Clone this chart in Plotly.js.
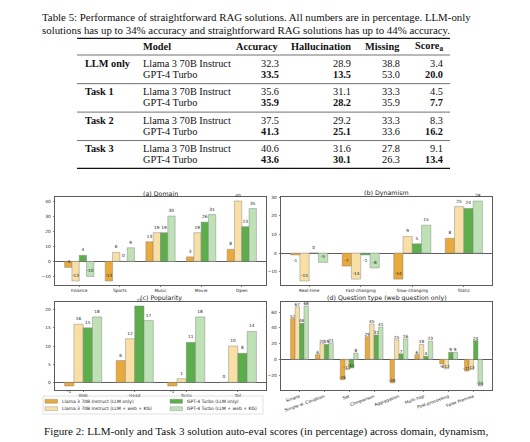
<!DOCTYPE html>
<html><head><meta charset="utf-8">
<script src="https://cdn.plot.ly/plotly-3.0.1.min.js"></script>
<style>html,body{margin:0;padding:0;background:#fff}#chart{width:530px;height:442px}</style>
</head><body><div id="chart"></div>
<script>
// ---------- Table data ----------
const tableCaption1 = 'Table 5: Performance of straightforward RAG solutions. All numbers are in percentage. LLM-only';
const tableCaption2 = 'solutions has up to 34% accuracy and straightforward RAG solutions has up to 44% accuracy.';
const tableHeaders = ['Model', 'Accuracy', 'Hallucination', 'Missing', 'Score<sub>a</sub>'];
const tableGroups = ['LLM only', 'Task 1', 'Task 2', 'Task 3'];
const tableModels = ['Llama 3 70B Instruct', 'GPT-4 Turbo'];
const accuracy = [32.3, 33.5, 35.6, 35.9, 37.5, 41.3, 40.6, 43.6];
const hallucination = [28.9, 13.5, 31.1, 28.2, 29.2, 25.1, 31.6, 30.1];
const missing = [38.8, 53.0, 33.3, 35.9, 33.3, 33.6, 27.8, 26.3];
const scoreA = [3.4, 20.0, 4.5, 7.7, 8.3, 16.2, 9.1, 13.4];

// ---------- Figure data ----------
const seriesNames = ['Llama 3 70B Instruct (LLM only)', 'Llama 3 70B Instruct (LLM + web + KG)',
                     'GPT-4 Turbo (LLM only)', 'GPT-4 Turbo (LLM + web + KG)'];
const seriesColors = ['#E9A93B', '#F8DFA6', '#5CAE4B', '#BEE1B6'];

const domainCats = ['Finance', 'Sports', 'Music', 'Movie', 'Open'];
const domainLlamaOnly = [-4, -13, 13, 3, 8];
const domainLlamaRag = [-13, 6, 19, 19, 40];
const domainGptOnly = [4, 0, 19, 26, 23];
const domainGptRag = [-10, 9, 30, 31, 35];

const dynCats = ['Real-time', 'Fast-changing', 'Slow-changing', 'Static'];
const dynLlamaOnly = [-1, -7, -14, 8];
const dynLlamaRag = [-15, -14, 9, 25];
const dynGptOnly = [0, -1, 5, 24];
const dynGptRag = [-5, -8, 15, 28];

const popCats = ['Web', 'Head', 'Torso', 'Tail'];
const popLlamaOnly = [-1, 6, -1, 0];
const popLlamaRag = [16, 12, 1, 10];
const popGptOnly = [15, 21, 11, 8];
const popGptRag = [18, 17, 18, 14];

const qtCats = ['Simple', 'Simple w. Condition', 'Set', 'Comparison', 'Aggregation', 'Multi-hop', 'Post-processing', 'False Premise'];
const qtLlamaOnly = [52, 6, -26, 29, -30, 6, -6, -15];
const qtLlamaRag = [67, 20, -13, 45, 25, 19, -12, -13];
const qtGptOnly = [46, 19, -11, 31, 7, 4, 9, 24];
const qtGptRag = [68, 21, 8, 41, 26, 23, 9, -34];

const figCaption1 = 'Figure 2: LLM-only and Task 3 solution auto-eval scores (in percentage) across domain, dynamism,';
const figCaption2 = 'popularity, and question type.';

// ---------- helpers ----------
const W = 530, H = 442;
const px = x => x / W;
const py = y => 1 - y / H;
const SERIF = 'Liberation Serif, Times New Roman, serif';
const SANS = 'DejaVu Sans, sans-serif';

const panels = [
  {title: '(a) Domain', cats: domainCats, vals: [domainLlamaOnly, domainLlamaRag, domainGptOnly, domainGptRag],
   xd: [55, 266], yd: [197, 285], yr: [-15.65, 42.65], dt: 10, ax: '', ang: 0},
  {title: '(b) Dynamism', cats: dynCats, vals: [dynLlamaOnly, dynLlamaRag, dynGptOnly, dynGptRag],
   xd: [281, 492], yd: [197, 285], yr: [-17.15, 30.15], dt: 10, ax: '2', ang: 0},
  {title: '(c) Popularity', cats: popCats, vals: [popLlamaOnly, popLlamaRag, popGptOnly, popGptRag],
   xd: [55, 266], yd: [302, 390], yr: [-2.1, 22.1], dt: 5, ax: '3', ang: 0},
  {title: '(d) Question type (web question only)', cats: qtCats, vals: [qtLlamaOnly, qtLlamaRag, qtGptOnly, qtGptRag],
   xd: [281, 492], yd: [302, 390], yr: [-39.1, 73.1], dt: 20, ax: '4', ang: -20}
];

const traces = [];
const layout = {
  width: W, height: H, margin: {l: 0, r: 0, t: 0, b: 0},
  paper_bgcolor: '#fff', plot_bgcolor: '#fff',
  barmode: 'group', bargap: 0.28, bargroupgap: 0,
  showlegend: false,
  uniformtext: {mode: 'show', minsize: 4.3},
  font: {family: SANS, color: '#222'},
  annotations: [], shapes: []
};

const TF = {size: 4.3, color: '#222', family: SANS};
panels.forEach(p => {
  const n = p.cats.length;
  const ext = (n - 1) + 0.72;
  const m = 0.05 * ext;
  const pxPerUnit = (p.yd[1] - p.yd[0]) / (p.yr[1] - p.yr[0]);
  p.vals.forEach((v, k) => {
    traces.push({
      type: 'bar', x: p.cats, y: v, name: seriesNames[k],
      xaxis: 'x' + p.ax, yaxis: 'y' + p.ax,
      marker: {color: seriesColors[k], line: {color: 'rgba(130,130,130,0.75)', width: 0.6}},
      text: v.map(String),
      textposition: v.map(d => (d < 0 && -d * pxPerUnit > 6) ? 'inside' : 'outside'),
      insidetextanchor: 'end',
      textangle: 0,
      textfont: TF, insidetextfont: TF, outsidetextfont: TF,
      constraintext: 'none', cliponaxis: false,
      hoverinfo: 'skip', showlegend: false
    });
  });
  const axStyle = {showline: true, mirror: true, linecolor: '#333', linewidth: 0.8,
    ticks: 'outside', ticklen: 1.5, tickwidth: 0.6, tickcolor: '#333',
    showgrid: false, tickfont: {size: 4.3, color: '#222', family: SANS}, fixedrange: true};
  layout['xaxis' + p.ax] = Object.assign({}, axStyle, {
    domain: [px(p.xd[0]), px(p.xd[1])], anchor: 'y' + p.ax, type: 'category',
    range: [-0.36 - m, n - 1 + 0.36 + m], zeroline: false, tickangle: p.ang, ticklabelstandoff: 0
  });
  layout['yaxis' + p.ax] = Object.assign({}, axStyle, {
    domain: [py(p.yd[1]), py(p.yd[0])], anchor: 'x' + p.ax,
    range: p.yr, dtick: p.dt, zeroline: true, zerolinecolor: '#333', zerolinewidth: 0.8, ticklabelstandoff: 1
  });
  layout.annotations.push({
    text: p.title, xref: 'paper', yref: 'paper', x: px((p.xd[0] + p.xd[1]) / 2), y: py(p.yd[0] - 4),
    xanchor: 'center', yanchor: 'middle', showarrow: false, font: {family: SANS, size: 6.3, color: '#222'}
  });
});

// ---------- legend (manual, two columns) ----------
layout.shapes.push({type: 'rect', xref: 'paper', yref: 'paper', x0: px(43), x1: px(263), y0: py(414), y1: py(396),
  line: {color: '#ccc', width: 0.6}, fillcolor: 'rgba(0,0,0,0)'});
const legCols = [45, 170], legRows = [401.3, 408.7];
seriesNames.forEach((nm, k) => {
  const c = Math.floor(k / 2), r = k % 2;
  const x0 = legCols[c], yc = legRows[r];
  layout.shapes.push({type: 'rect', xref: 'paper', yref: 'paper', x0: px(x0), x1: px(x0 + 12.5), y0: py(yc + 2), y1: py(yc - 2),
    fillcolor: seriesColors[k], line: {color: 'rgba(130,130,130,0.75)', width: 0.5}});
  layout.annotations.push({text: nm, xref: 'paper', yref: 'paper', x: px(x0 + 15), y: py(yc), xanchor: 'left', yanchor: 'middle',
    showarrow: false, font: {family: SANS, size: 4.5, color: '#222'}});
});

// ---------- table ----------
const serif = size => ({family: SERIF, size: size, color: '#111'});
function txt(t, x, y, anchor, size) {
  layout.annotations.push({text: t, xref: 'paper', yref: 'paper', x: px(x), y: py(y), xanchor: anchor, yanchor: 'middle',
    showarrow: false, font: serif(size)});
}
txt(tableCaption1, 40, 16.7, 'left', 10.85);
txt(tableCaption2, 40, 30, 'left', 10.85);
function rule(y, w) {
  layout.shapes.push({type: 'line', xref: 'paper', yref: 'paper', x0: px(77), x1: px(450), y0: py(y), y1: py(y), line: {color: '#111', width: w}});
}
rule(38.3, 1.3);
rule(55, 0.6);
rule(168.3, 1.3);
const colRight = [281, 353, 402, 445];
const TS = 10.3;
txt('<b>' + tableHeaders[0] + '</b>', 141, 46.7, 'left', TS);
tableHeaders.slice(1).forEach((h, i) => txt('<b>' + h + '</b>', colRight[i], 46.7, 'right', TS));
const cols = [accuracy, hallucination, missing, scoreA];
const boldCol = [true, true, false, true];
tableGroups.forEach((g, gi) => {
  const base = 63.4 + gi * 28.45;
  if (gi > 0) rule(base - 8.2, 0.6);
  txt('<b>' + g + '</b>', 83, base, 'left', TS);
  tableModels.forEach((mdl, r) => {
    const y = base + r * 11;
    const idx = gi * 2 + r;
    txt(mdl, 141, y, 'left', TS);
    cols.forEach((col, ci) => {
      const s = col[idx].toFixed(1);
      txt(r === 1 && boldCol[ci] ? '<b>' + s + '</b>' : s, colRight[ci], y, 'right', TS);
    });
  });
});

// ---------- figure caption ----------
txt(figCaption1, 42, 431, 'left', 11.1);
txt(figCaption2, 42, 444.5, 'left', 11.1);

Plotly.newPlot('chart', traces, layout, {displayModeBar: false, staticPlot: true});
</script></body></html>
